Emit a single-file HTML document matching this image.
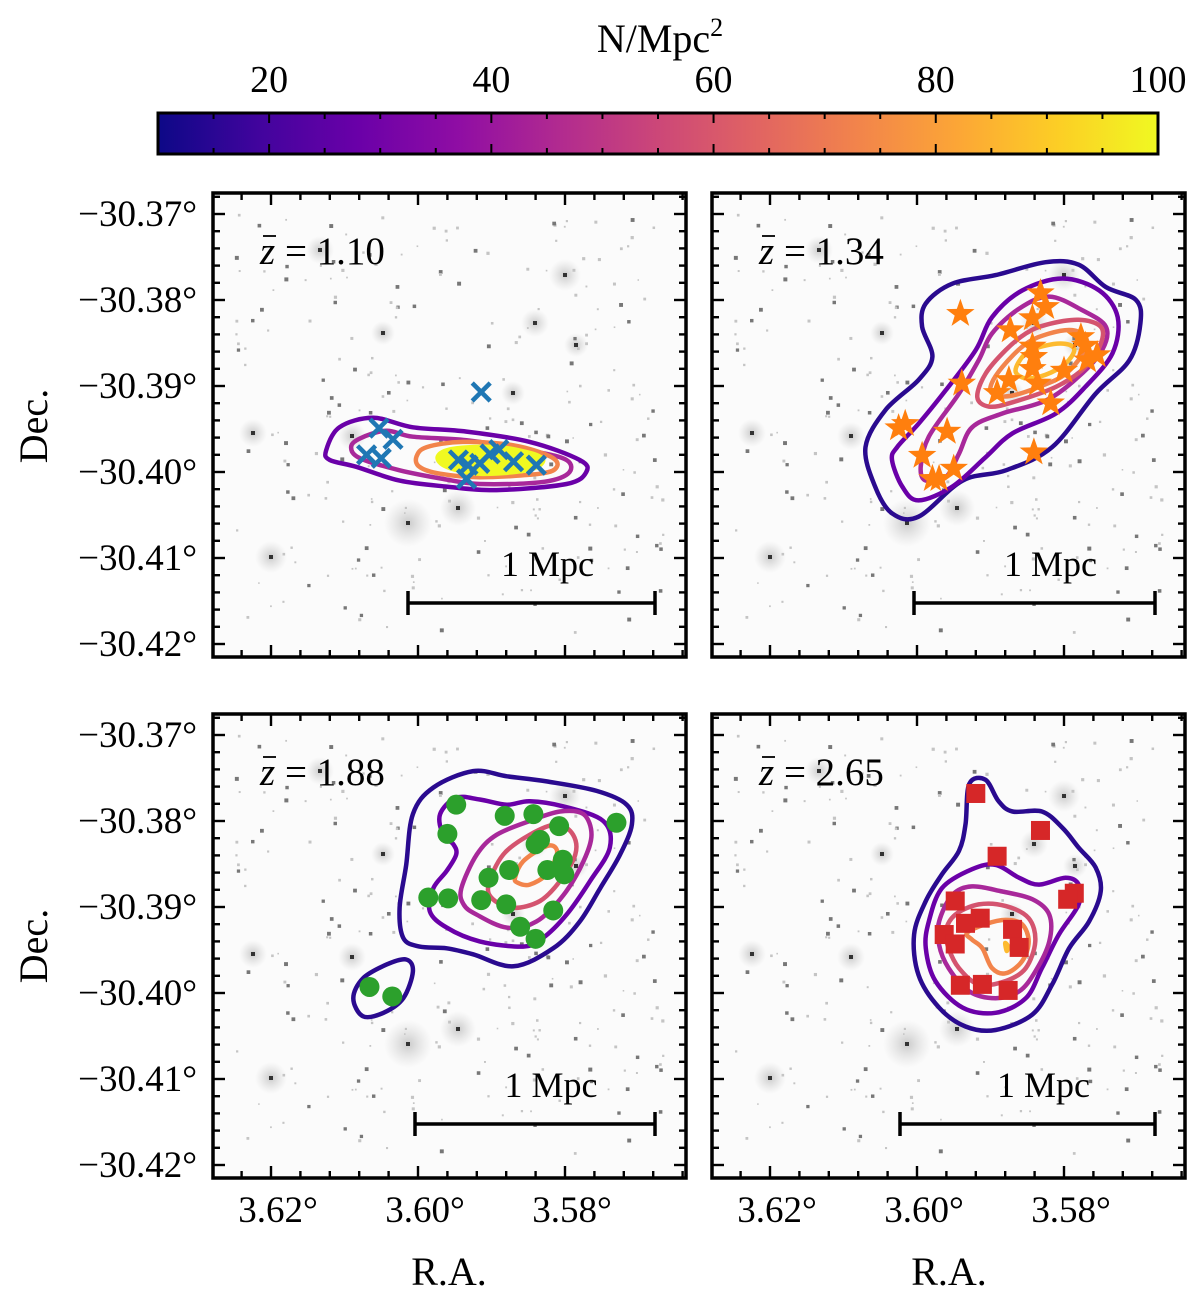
<!DOCTYPE html>
<html><head><meta charset="utf-8"><style>
html,body{margin:0;padding:0;background:#fff;}
svg{display:block;font-family:"Liberation Serif","DejaVu Serif",serif;}
</style></head><body>
<svg id="fig" width="1200" height="1303" viewBox="0 0 1200 1303" xmlns="http://www.w3.org/2000/svg">
<defs>
<linearGradient id="plasma" x1="0" x2="1" y1="0" y2="0">
<stop offset="0" stop-color="#0d0887"/><stop offset="0.1" stop-color="#41049d"/><stop offset="0.2" stop-color="#6a00a8"/><stop offset="0.3" stop-color="#8f0da4"/><stop offset="0.4" stop-color="#b12a90"/><stop offset="0.5" stop-color="#cc4778"/><stop offset="0.6" stop-color="#e16462"/><stop offset="0.7" stop-color="#f2844b"/><stop offset="0.8" stop-color="#fca636"/><stop offset="0.9" stop-color="#fcce25"/><stop offset="1" stop-color="#f0f921"/>
</linearGradient>
<radialGradient id="glow"><stop offset="0" stop-color="#999" stop-opacity="0.5"/><stop offset="1" stop-color="#bbb" stop-opacity="0"/></radialGradient>
</defs>
<g id="colorbar">
<text x="660" y="52" font-size="40" text-anchor="middle">N/Mpc<tspan dy="-16" font-size="26">2</tspan></text>
<rect x="158" y="113" width="1000" height="41" fill="url(#plasma)" stroke="#000" stroke-width="3"/>
</g>
<g id="panels"></g>
<text x="449" y="1285" font-size="40" text-anchor="middle">R.A.</text>
<text x="949" y="1285" font-size="40" text-anchor="middle">R.A.</text>
<text transform="translate(47,426) rotate(-90)" font-size="40" text-anchor="middle">Dec.</text>
<text transform="translate(47,946) rotate(-90)" font-size="40" text-anchor="middle">Dec.</text>
</svg>
<script>
const cbTicks = [20, 40, 60, 80, 100];
const cbMin = 10, cbMax = 100;
const decTicks = [-30.37, -30.38, -30.39, -30.40, -30.41, -30.42];
const raTicks = [3.62, 3.60, 3.58];
const redshiftLabels = ["1.10", "1.34", "1.88", "2.65"];
const levelColors = ["#2a0a8f", "#6a00a8", "#a8289a", "#d4546f", "#f2844b", "#fdba2f"];

const p1RA = [3.5914,3.6053,3.6034,3.6070,3.6050,3.5945,3.5932,3.5934,3.5916,3.5902,3.5890,3.5870,3.5839];
const p1Dec = [-30.3907,-30.3949,-30.3962,-30.3980,-30.3984,-30.3986,-30.3992,-30.4008,-30.3990,-30.3979,-30.3974,-30.3988,-30.3992];
const p1Contours = [
 {lev:1, pts:[[3.6125,-30.3975],[3.6107,-30.3948],[3.6061,-30.3937],[3.6007,-30.3948],[3.5934,-30.3953],[3.5848,-30.3965],[3.5780,-30.3986],[3.5771,-30.4000],[3.5798,-30.4014],[3.5893,-30.4021],[3.5961,-30.4017],[3.6025,-30.4010],[3.6084,-30.3994],[3.6120,-30.3986]]},
 {lev:2, pts:[[3.6091,-30.3971],[3.6079,-30.3961],[3.6043,-30.3952],[3.6007,-30.3959],[3.5934,-30.3963],[3.5848,-30.3975],[3.5798,-30.3986],[3.5796,-30.4002],[3.5834,-30.4012],[3.5916,-30.4014],[3.5966,-30.4008],[3.6025,-30.3998],[3.6079,-30.3984]]},
 {lev:4, pts:[[3.6002,-30.3982],[3.5988,-30.3971],[3.5939,-30.3965],[3.5870,-30.3969],[3.5820,-30.3982],[3.5811,-30.3994],[3.5834,-30.4002],[3.5916,-30.4006],[3.5970,-30.4002],[3.5998,-30.3994]]},
 {lev:6, fill:true, pts:[[3.5973,-30.3982],[3.5952,-30.3973],[3.5893,-30.3971],[3.5843,-30.3979],[3.5830,-30.3988],[3.5852,-30.3998],[3.5916,-30.4002],[3.5961,-30.3994]]}
];
const p2RA = [3.5941,3.5832,3.5825,3.5843,3.5873,3.5777,3.5771,3.5843,3.5841,3.5755,3.5768,3.5843,3.5875,3.5836,3.5800,3.5891,3.5939,3.5818,3.6016,3.6025,3.5959,3.5993,3.5950,3.5979,3.5970,3.5841];
const p2Dec = [-30.3816,-30.3792,-30.3808,-30.3821,-30.3835,-30.3843,-30.3853,-30.3854,-30.3866,-30.3864,-30.3870,-30.3880,-30.3893,-30.3897,-30.3882,-30.3908,-30.3897,-30.3920,-30.3944,-30.3949,-30.3953,-30.3981,-30.3996,-30.4008,-30.4008,-30.3977];
const p2Contours = [
 {lev:0, pts:[[3.5988,-30.3804],[3.5952,-30.3781],[3.5893,-30.3771],[3.5825,-30.3756],[3.5780,-30.3759],[3.5743,-30.3785],[3.5702,-30.3800],[3.5696,-30.3827],[3.5711,-30.3870],[3.5757,-30.3909],[3.5816,-30.3971],[3.5879,-30.3998],[3.5938,-30.4010],[3.5998,-30.4052],[3.6034,-30.4048],[3.6057,-30.4017],[3.6070,-30.3971],[3.6043,-30.3928],[3.5998,-30.3893],[3.5979,-30.3866],[3.5993,-30.3831]]},
 {lev:1, pts:[[3.6027,-30.3971],[3.5998,-30.3944],[3.5961,-30.3905],[3.5920,-30.3858],[3.5898,-30.3820],[3.5857,-30.3789],[3.5802,-30.3775],[3.5752,-30.3789],[3.5727,-30.3820],[3.5734,-30.3862],[3.5771,-30.3901],[3.5811,-30.3932],[3.5870,-30.3955],[3.5907,-30.3983],[3.5952,-30.4017],[3.5998,-30.4033],[3.6020,-30.4017],[3.6034,-30.3986]]},
 {lev:2, pts:[[3.5995,-30.3994],[3.5984,-30.3959],[3.5943,-30.3909],[3.5916,-30.3870],[3.5898,-30.3839],[3.5861,-30.3810],[3.5820,-30.3796],[3.5775,-30.3812],[3.5743,-30.3831],[3.5748,-30.3858],[3.5780,-30.3889],[3.5825,-30.3917],[3.5884,-30.3932],[3.5925,-30.3948],[3.5943,-30.3979],[3.5961,-30.4006],[3.5988,-30.4010]]},
 {lev:3, pts:[[3.5918,-30.3913],[3.5907,-30.3886],[3.5879,-30.3858],[3.5852,-30.3839],[3.5825,-30.3829],[3.5780,-30.3823],[3.5750,-30.3831],[3.5750,-30.3851],[3.5771,-30.3878],[3.5811,-30.3901],[3.5870,-30.3919],[3.5902,-30.3924]]},
 {lev:4, pts:[[3.5900,-30.3901],[3.5884,-30.3878],[3.5852,-30.3851],[3.5820,-30.3839],[3.5789,-30.3835],[3.5771,-30.3843],[3.5771,-30.3858],[3.5798,-30.3886],[3.5834,-30.3901],[3.5870,-30.3911],[3.5893,-30.3911]]},
 {lev:5, pts:[[3.5866,-30.3882],[3.5852,-30.3862],[3.5825,-30.3853],[3.5798,-30.3851],[3.5786,-30.3858],[3.5798,-30.3874],[3.5825,-30.3887],[3.5852,-30.3891]]}
];
const p3RA = [3.5948,3.5882,3.5843,3.5730,3.5808,3.5960,3.5834,3.5840,3.5803,3.5876,3.5824,3.5801,3.5904,3.5986,3.5959,3.5914,3.5880,3.5816,3.5861,3.5840,3.6066,3.6035];
const p3Dec = [-30.3781,-30.3794,-30.3792,-30.3802,-30.3806,-30.3815,-30.3822,-30.3827,-30.3845,-30.3857,-30.3857,-30.3862,-30.3866,-30.3889,-30.3890,-30.3892,-30.3897,-30.3904,-30.3923,-30.3937,-30.3993,-30.4004];
const p3Contours = [
 {lev:0, pts:[[3.6016,-30.3851],[3.6007,-30.3792],[3.5979,-30.3761],[3.5925,-30.3742],[3.5879,-30.3748],[3.5825,-30.3754],[3.5757,-30.3765],[3.5716,-30.3781],[3.5709,-30.3804],[3.5725,-30.3839],[3.5752,-30.3878],[3.5780,-30.3917],[3.5816,-30.3948],[3.5870,-30.3969],[3.5925,-30.3955],[3.5961,-30.3948],[3.5998,-30.3946],[3.6020,-30.3936],[3.6025,-30.3901]]},
 {lev:0, pts:[[3.6088,-30.4006],[3.6075,-30.3983],[3.6043,-30.3967],[3.6016,-30.3961],[3.6007,-30.3975],[3.6020,-30.4006],[3.6047,-30.4023],[3.6075,-30.4027]]},
 {lev:1, pts:[[3.5970,-30.3792],[3.5948,-30.3773],[3.5916,-30.3775],[3.5879,-30.3781],[3.5848,-30.3777],[3.5802,-30.3783],[3.5748,-30.3800],[3.5739,-30.3831],[3.5766,-30.3870],[3.5798,-30.3909],[3.5830,-30.3936],[3.5857,-30.3946],[3.5916,-30.3940],[3.5961,-30.3924],[3.5984,-30.3905],[3.5979,-30.3878],[3.5961,-30.3858],[3.5948,-30.3839],[3.5952,-30.3827],[3.5966,-30.3816]]},
 {lev:2, pts:[[3.5941,-30.3878],[3.5920,-30.3839],[3.5893,-30.3816],[3.5848,-30.3800],[3.5807,-30.3789],[3.5775,-30.3792],[3.5764,-30.3816],[3.5775,-30.3847],[3.5802,-30.3886],[3.5839,-30.3917],[3.5879,-30.3924],[3.5920,-30.3909],[3.5938,-30.3897]]},
 {lev:3, pts:[[3.5904,-30.3874],[3.5884,-30.3839],[3.5848,-30.3816],[3.5811,-30.3804],[3.5789,-30.3816],[3.5786,-30.3839],[3.5807,-30.3870],[3.5834,-30.3893],[3.5870,-30.3901],[3.5898,-30.3891]]},
 {lev:4, pts:[[3.5868,-30.3866],[3.5857,-30.3847],[3.5830,-30.3831],[3.5816,-30.3829],[3.5811,-30.3839],[3.5825,-30.3862],[3.5848,-30.3874],[3.5864,-30.3872]]}
];
const p4RA = [3.5920,3.5832,3.5891,3.5786,3.5795,3.5948,3.5914,3.5934,3.5870,3.5963,3.5948,3.5861,3.5941,3.5911,3.5876];
const p4Dec = [-30.3768,-30.3811,-30.3841,-30.3884,-30.3891,-30.3893,-30.3913,-30.3919,-30.3926,-30.3932,-30.3943,-30.3947,-30.3991,-30.3990,-30.3997];
const p4Contours = [
 {lev:0, pts:[[3.5934,-30.3804],[3.5929,-30.3757],[3.5907,-30.3752],[3.5889,-30.3777],[3.5870,-30.3789],[3.5830,-30.3789],[3.5802,-30.3808],[3.5780,-30.3831],[3.5757,-30.3854],[3.5750,-30.3882],[3.5766,-30.3917],[3.5793,-30.3948],[3.5816,-30.3990],[3.5843,-30.4025],[3.5893,-30.4043],[3.5934,-30.4039],[3.5970,-30.4017],[3.5998,-30.3979],[3.6004,-30.3932],[3.5988,-30.3893],[3.5966,-30.3862],[3.5943,-30.3835]]},
 {lev:1, pts:[[3.5984,-30.3917],[3.5966,-30.3878],[3.5925,-30.3856],[3.5893,-30.3851],[3.5861,-30.3866],[3.5834,-30.3874],[3.5798,-30.3866],[3.5780,-30.3874],[3.5780,-30.3897],[3.5807,-30.3932],[3.5830,-30.3971],[3.5852,-30.4006],[3.5893,-30.4023],[3.5938,-30.4017],[3.5975,-30.3986],[3.5988,-30.3948]]},
 {lev:2, pts:[[3.5970,-30.3917],[3.5952,-30.3886],[3.5925,-30.3876],[3.5884,-30.3882],[3.5843,-30.3891],[3.5820,-30.3909],[3.5820,-30.3940],[3.5839,-30.3975],[3.5861,-30.3998],[3.5893,-30.4006],[3.5929,-30.3998],[3.5957,-30.3971],[3.5970,-30.3944]]},
 {lev:3, pts:[[3.5961,-30.3928],[3.5948,-30.3909],[3.5916,-30.3897],[3.5879,-30.3899],[3.5848,-30.3913],[3.5839,-30.3940],[3.5852,-30.3971],[3.5879,-30.3986],[3.5916,-30.3990],[3.5943,-30.3971],[3.5957,-30.3948]]},
 {lev:4, pts:[[3.5932,-30.3930],[3.5907,-30.3920],[3.5879,-30.3915],[3.5857,-30.3920],[3.5848,-30.3940],[3.5857,-30.3963],[3.5879,-30.3977],[3.5898,-30.3971],[3.5911,-30.3948],[3.5925,-30.3938]]},
 {lev:5, pts:[[3.5880,-30.3942],[3.5876,-30.3946],[3.5878,-30.3951]]}
];

const NS = "http://www.w3.org/2000/svg";
const panelsG = document.getElementById("panels");
const cbG = document.getElementById("colorbar");
function mk(tag, attrs, parent){ const e=document.createElementNS(NS,tag); for(const k in attrs) e.setAttribute(k,attrs[k]); parent.appendChild(e); return e; }

function cbX(v){ return 158 + (v-cbMin)/(cbMax-cbMin)*1000; }
cbTicks.forEach(v=>{
  const t=mk("text",{x:cbX(v),y:92,"font-size":38,"text-anchor":"middle"},cbG);
  t.textContent=String(v);
  
  
});
for(let v=15; v<=100; v+=5){
  const x=cbX(v); const major = v%20===0;
  const l1=mk("line",{x1:x,x2:x,y1:114,y2:114+(major?9:5),stroke:"#000","stroke-width":2},cbG);
  
  
  const l2=mk("line",{x1:x,x2:x,y1:153,y2:153-(major?9:5),stroke:"#000","stroke-width":2},cbG);
  
  
}

let seed=12345; function rnd(){ seed=(seed*1103515245+12345)%2147483648; return seed/2147483648; }
const bgStars=[]; for(let i=0;i<260;i++){ bgStars.push([20+rnd()*430, 20+rnd()*420, rnd()]); }
const glows=[[195,330,24],[245,315,18],[58,364,16],[107,57,14],[352,82,16],[322,130,14],[139,243,14],[40,240,14],[363,152,12],[170,140,12],[300,200,12]];

const panels=[
 {x0:213,y0:193,ra:p1RA,dec:p1Dec,cont:p1Contours,marker:"x",z:0,left:true,bottom:false,bar:[408,655]},
 {x0:712,y0:193,ra:p2RA,dec:p2Dec,cont:p2Contours,marker:"star",z:1,left:false,bottom:false,bar:[914,1155]},
 {x0:213,y0:714,ra:p3RA,dec:p3Dec,cont:p3Contours,marker:"circle",z:2,left:true,bottom:true,bar:[415,655]},
 {x0:712,y0:714,ra:p4RA,dec:p4Dec,cont:p4Contours,marker:"square",z:3,left:false,bottom:true,bar:[900,1155]}
];
const W=473,H=464;

function smoothPath(pts){
  const n=pts.length; let d="M"+pts[0][0].toFixed(1)+","+pts[0][1].toFixed(1);
  for(let i=0;i<n;i++){
    const p0=pts[(i-1+n)%n],p1=pts[i],p2=pts[(i+1)%n],p3=pts[(i+2)%n];
    const c1=[p1[0]+(p2[0]-p0[0])/6,p1[1]+(p2[1]-p0[1])/6];
    const c2=[p2[0]-(p3[0]-p1[0])/6,p2[1]-(p3[1]-p1[1])/6];
    d+="C"+c1[0].toFixed(1)+","+c1[1].toFixed(1)+" "+c2[0].toFixed(1)+","+c2[1].toFixed(1)+" "+p2[0].toFixed(1)+","+p2[1].toFixed(1);
  }
  return d+"Z";
}

panels.forEach((P,pi)=>{
  const xS = ra => P.x0 + 58 + (3.62 - ra)/0.02*147;
  const yS = dec => P.y0 + 21 + (-30.37 - dec)/0.01*86;
  const g=mk("g",{},panelsG);
  
  
  const clipId="clip"+pi;
  const cp=mk("clipPath",{id:clipId},g); mk("rect",{x:P.x0,y:P.y0,width:W,height:H},cp);
  const bg=mk("rect",{x:P.x0,y:P.y0,width:W,height:H,fill:"#fbfbfb"},g);
  
  
  const img=mk("g",{"clip-path":"url(#"+clipId+")"},g);
  glows.forEach(q=>{ mk("circle",{cx:P.x0+q[0],cy:P.y0+q[1],r:q[2],fill:"url(#glow)"},img); mk("rect",{x:P.x0+q[0]-2,y:P.y0+q[1]-2,width:4,height:4,fill:"#333"},img); });
  bgStars.forEach(s=>{ const sz=1.5+s[2]*2.5; mk("rect",{x:P.x0+s[0],y:P.y0+s[1],width:sz,height:sz,fill:s[2]>0.7?"#777":"#c4c4c4"},img); });
  P.cont.forEach(c=>{
    const pts=c.pts.map(p=>[xS(p[0]),yS(p[1])]);
    const col = c.fill ? "#f0f921" : levelColors[c.lev];
    const path=mk("path",{d:smoothPath(pts),fill:c.fill?"#f0f921":"none",stroke:col,"stroke-width":4.5,"stroke-linejoin":"round"},img);
    
    
  });
  P.ra.forEach((ra,i)=>{
    const x=xS(ra), y=yS(P.dec[i]); let m;
    if(P.marker==="x"){
      m=mk("path",{d:`M${x-9},${y-9}L${x+9},${y+9}M${x-9},${y+9}L${x+9},${y-9}`,stroke:"#1f77b4","stroke-width":4.5},img);
    } else if(P.marker==="star"){
      let d=""; for(let k=0;k<10;k++){ const r=k%2?6:15; const a=-Math.PI/2+k*Math.PI/5; d+=(k?"L":"M")+(x+r*Math.cos(a)).toFixed(1)+","+(y+r*Math.sin(a)).toFixed(1); }
      m=mk("path",{d:d+"Z",fill:"#ff7f0e"},img);
    } else if(P.marker==="circle"){
      m=mk("circle",{cx:x,cy:y,r:10,fill:"#2ca02c"},img);
    } else {
      m=mk("rect",{x:x-9.5,y:y-9.5,width:19,height:19,fill:"#d62728"},img);
    }
    
    
  });
  const zt=mk("text",{x:P.x0+47,y:P.y0+71,"font-size":39},g);
  zt.innerHTML='<tspan font-style="italic">z</tspan> = '+redshiftLabels[P.z];
  
  
  mk("line",{x1:P.x0+50,x2:P.x0+63,y1:P.y0+43,y2:P.y0+43,stroke:"#000","stroke-width":1.8},g);
  const sb=mk("g",{},g);
  
  
  const by=P.y0+410;
  mk("line",{x1:P.bar[0],x2:P.bar[1],y1:by,y2:by,stroke:"#000","stroke-width":3.5},sb);
  mk("line",{x1:P.bar[0],x2:P.bar[0],y1:by-12,y2:by+12,stroke:"#000","stroke-width":3.5},sb);
  mk("line",{x1:P.bar[1],x2:P.bar[1],y1:by-12,y2:by+12,stroke:"#000","stroke-width":3.5},sb);
  const st=mk("text",{x:(P.bar[0]+P.bar[1])/2+16,y:P.y0+383,"font-size":36,"text-anchor":"middle"},sb);
  st.textContent="1 Mpc";
  const tk=mk("g",{stroke:"#000","stroke-width":2.4},g);
  for(let k=0;k<=30;k++){
    const dec=-30.36-0.002*k; const y=yS(dec); if(y<P.y0+1||y>P.y0+H-1) continue;
    const major=Math.abs(Math.round(dec*100)-dec*100)<1e-6; const L=major?12:7;
    mk("line",{x1:P.x0,x2:P.x0+L,y1:y,y2:y},tk); mk("line",{x1:P.x0+W,x2:P.x0+W-L,y1:y,y2:y},tk);
  }
  for(let k=0;k<=25;k++){
    const ra=3.632-0.004*k; const x=xS(ra); if(x<P.x0+1||x>P.x0+W-1) continue;
    const major=Math.abs(Math.round(ra*50)-ra*50)<1e-6; const L=major?12:7;
    mk("line",{x1:x,x2:x,y1:P.y0+H,y2:P.y0+H-L},tk); mk("line",{x1:x,x2:x,y1:P.y0,y2:P.y0+L},tk);
  }
  const fr=mk("rect",{x:P.x0,y:P.y0,width:W,height:H,fill:"none",stroke:"#000","stroke-width":3.5},g);
  
  
  if(P.left){
    decTicks.forEach(d=>{
      const t=mk("text",{x:P.x0-16,y:yS(d)+12,"font-size":37,"text-anchor":"end"},g);
      t.textContent="\u2212"+Math.abs(d).toFixed(2)+"\u00b0";
      
      
    });
  }
  if(P.bottom){
    raTicks.forEach(r=>{
      const t=mk("text",{x:xS(r)+7,y:P.y0+H+44,"font-size":37,"text-anchor":"middle"},g);
      t.textContent=r.toFixed(2)+"\u00b0";
      
      
    });
  }
});
</script>
</body></html>
